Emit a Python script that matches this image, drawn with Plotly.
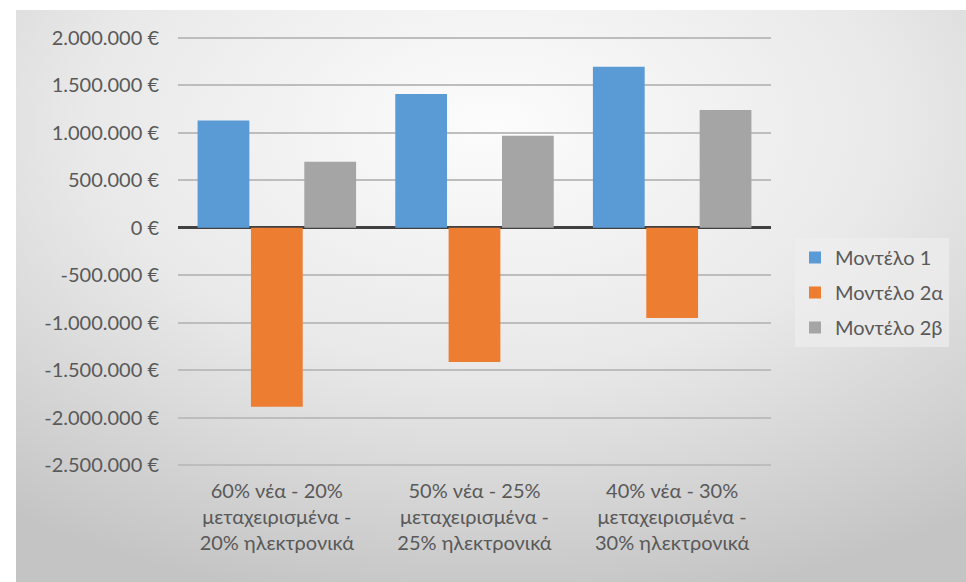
import base64
import plotly.graph_objects as go

categories = [
    "60% νέα - 20%<br>μεταχειρισμένα -<br>20% ηλεκτρονικά",
    "50% νέα - 25%<br>μεταχειρισμένα -<br>25% ηλεκτρονικά",
    "40% νέα - 30%<br>μεταχειρισμένα -<br>30% ηλεκτρονικά",
]
series_names = ["Μοντέλο 1", "Μοντέλο 2α", "Μοντέλο 2β"]
model1 = [1130000, 1410000, 1695000]
model2a = [-1885000, -1415000, -950000]
model2b = [695000, 968000, 1240000]
tick_vals = [2000000, 1500000, 1000000, 500000, 0, -500000, -1000000,
             -1500000, -2000000, -2500000]
tick_text = ["2.000.000 €", "1.500.000 €", "1.000.000 €", "500.000 €", "0 €",
             "-500.000 €", "-1.000.000 €", "-1.500.000 €", "-2.000.000 €",
             "-2.500.000 €"]
colors = ["#5B9BD5", "#ED7D31", "#A5A5A5"]

W, H = 966, 582
L, R, T, B = 178, 195, 36, 115
pw, ph = W - L - R, H - T - B

svg = (
    '<svg xmlns="http://www.w3.org/2000/svg" width="950" height="572" '
    'viewBox="0 0 950 572" preserveAspectRatio="none">'
    '<defs><radialGradient id="g" cx="0.5" cy="0.2" r="0.85">'
    '<stop offset="0" stop-color="#fcfcfc"/>'
    '<stop offset="0.5" stop-color="#e9e9e9"/>'
    '<stop offset="1" stop-color="#c4c4c4"/>'
    '</radialGradient></defs>'
    '<rect width="950" height="572" fill="url(#g)"/></svg>'
)
src = "data:image/svg+xml;base64," + base64.b64encode(svg.encode()).decode()

fig = go.Figure()
for name, vals, col in zip(series_names, [model1, model2a, model2b], colors):
    fig.add_trace(go.Bar(x=categories, y=vals, name=name, marker_color=col,
                         marker_line_width=0, legendgroup=name))

font_family = "Lato, 'Open Sans', sans-serif"
fig.update_layout(
    width=W, height=H,
    margin=dict(l=L, r=R, t=T, b=B, autoexpand=False),
    paper_bgcolor="white",
    plot_bgcolor="rgba(0,0,0,0)",
    barmode="group",
    bargap=0.19,
    bargroupgap=0.03,
    font=dict(family=font_family, size=20, color="#595959"),
    images=[dict(source=src, xref="paper", yref="paper",
                 x=(16 - L) / pw, y=1 + (T - 10) / ph,
                 sizex=950 / pw, sizey=572 / ph,
                 sizing="stretch", layer="below",
                 xanchor="left", yanchor="top")],
    legend=dict(x=(795 - L) / pw, y=1 - (238 - T) / ph,
                xanchor="left", yanchor="top",
                bgcolor="rgba(238,238,238,0.7)",
                font=dict(size=20, color="#595959", family=font_family),
                traceorder="grouped", tracegroupgap=6,
                itemwidth=30),
    showlegend=True,
)
fig.update_xaxes(showgrid=False, showline=False, ticks="",
                 ticklabelstandoff=10,
                 tickfont=dict(size=20, color="#595959"))
fig.update_yaxes(range=[-2520000, 2020000], tickvals=tick_vals,
                 ticktext=tick_text, showgrid=True, gridcolor="#bdbdbd",
                 gridwidth=1.5, zeroline=True, zerolinecolor="#404040",
                 zerolinewidth=3, ticks="", ticklabelstandoff=18,
                 tickfont=dict(size=20, color="#595959"))

fig.write_html("out.html", config={"displayModeBar": False},
               post_script="document.body.style.margin='0';window.dispatchEvent(new Event('resize'));")
